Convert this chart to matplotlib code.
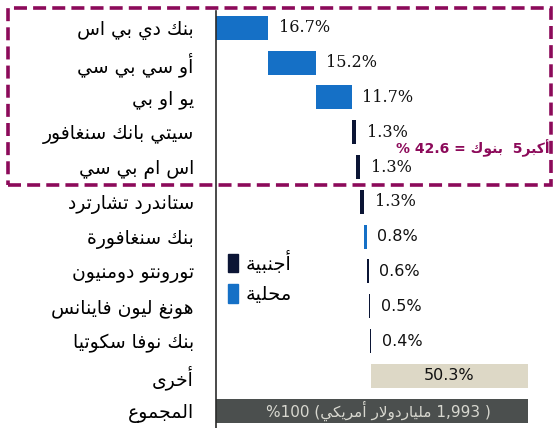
import re
import matplotlib
matplotlib.use('Agg')
import matplotlib.pyplot as plt
from matplotlib.patches import Patch, Rectangle

# data
banks = ['بنك دي بي اس', 'أو سي بي سي', 'يو او بي', 'سيتي بانك سنغافور', 'اس ام بي سي',
         'ستاندرد تشارترد', 'بنك سنغافورة', 'تورونتو دومنيون', 'هونغ ليون فاينانس', 'بنك نوفا سكوتيا']
shares = [16.7, 15.2, 11.7, 1.3, 1.3, 1.3, 0.8, 0.6, 0.5, 0.4]
kinds = ['local', 'local', 'local', 'foreign', 'foreign', 'foreign', 'local', 'foreign', 'foreign', 'foreign']
others_label = 'أخرى'
others_share = 50.3
total_label = 'المجموع'
total_share = 100
total_text = '( 1,993 ملياردولار أمريكي) 100%'
top5_text = 'أكبر5  بنوك = 42.6 %'
legend_labels = ['أجنبية', 'محلية']

BLUE = '#1570c6'
NAVY = '#0b1535'
BEIGE = '#ddd8c6'
GREY = '#4b4f4e'
MAROON = '#8c0a5a'

# --- minimal arabic shaping + rtl ordering (no reshaper available) ---
DUAL = {'ئ': 0xFE89, 'ب': 0xFE8F, 'ت': 0xFE95, 'ث': 0xFE99, 'ج': 0xFE9D, 'ح': 0xFEA1,
        'خ': 0xFEA5, 'س': 0xFEB1, 'ش': 0xFEB5, 'ص': 0xFEB9, 'ض': 0xFEBD, 'ط': 0xFEC1,
        'ظ': 0xFEC5, 'ع': 0xFEC9, 'غ': 0xFECD, 'ف': 0xFED1, 'ق': 0xFED5, 'ك': 0xFED9,
        'ل': 0xFEDD, 'م': 0xFEE1, 'ن': 0xFEE5, 'ه': 0xFEE9, 'ي': 0xFEF1}
RIGHT = {'آ': 0xFE81, 'أ': 0xFE83, 'ؤ': 0xFE85, 'إ': 0xFE87, 'ا': 0xFE8D, 'ة': 0xFE93,
         'د': 0xFEA9, 'ذ': 0xFEAB, 'ر': 0xFEAD, 'ز': 0xFEAF, 'و': 0xFEED, 'ى': 0xFEEF}
LAM_ALEF = {'آ': 0xFEF5, 'أ': 0xFEF7, 'إ': 0xFEF9, 'ا': 0xFEFB}
MIRROR = str.maketrans('()', ')(')


def shape(text):
    seq = []
    i = 0
    while i < len(text):
        c = text[i]
        if c == 'ل' and i + 1 < len(text) and text[i + 1] in LAM_ALEF:
            seq.append(('LA', text[i + 1]))
            i += 2
        else:
            seq.append(('C', c))
            i += 1

    def joins_next(it):
        return it[0] == 'C' and it[1] in DUAL

    def joins_prev(it):
        return it[0] == 'LA' or it[1] in DUAL or it[1] in RIGHT

    out = []
    for j, it in enumerate(seq):
        p = j > 0 and joins_next(seq[j - 1]) and joins_prev(it)
        n = j + 1 < len(seq) and joins_next(it) and joins_prev(seq[j + 1])
        k, c = it
        if k == 'LA':
            out.append(chr(LAM_ALEF[c] + (1 if p else 0)))
        elif c in DUAL:
            out.append(chr(DUAL[c] + (3 if p and n else 2 if n else 1 if p else 0)))
        elif c in RIGHT:
            out.append(chr(RIGHT[c] + (1 if p else 0)))
        else:
            out.append(c)
    return ''.join(out)


def ar(text):
    parts = re.split(r'([0-9][0-9.,]*[0-9]|[0-9])', shape(text))
    vis = [p if k % 2 else p[::-1].translate(MIRROR) for k, p in enumerate(parts)]
    return ''.join(vis[::-1])


fig = plt.figure(figsize=(5.53, 4.28), dpi=100)
ax = fig.add_axes([216 / 553, 0, 1 - 216 / 553, 1 - 10.5 / 428])

n = len(banks)
left = 0
for i in range(n):
    col = BLUE if kinds[i] == 'local' else NAVY
    ax.barh(i, shares[i], left=left, height=0.69, color=col)
    font = 'DejaVu Serif' if i < 6 else 'DejaVu Sans'
    ax.annotate(f'{shares[i]}%', (left + shares[i], i), xytext=(7.5, 0),
                textcoords='offset points', va='center', ha='left',
                fontsize=11.5, family=font, color='#111111')
    left += shares[i]

ax.barh(n, others_share, left=total_share - others_share, height=0.69, color=BEIGE)
ax.text(total_share - others_share / 2, n, f'{others_share}%', ha='center', va='center',
        fontsize=11.5, color='#111111')
ax.barh(n + 1, total_share, height=0.69, color=GREY)
ax.text(52, n + 1, ar(total_text), ha='center', va='center', fontsize=11, color='#d8d8d0')

ax.set_xlim(0, 337 / 3.12)
ax.set_ylim(n + 1.5, -0.5)
ax.set_yticks(range(n + 2))
ax.set_yticklabels([ar(b) for b in banks + [others_label, total_label]], fontsize=13.5)
ax.tick_params(axis='y', length=0, pad=16)
ax.set_xticks([])
for s in ['top', 'right', 'bottom']:
    ax.spines[s].set_visible(False)
ax.spines['left'].set_color('#2b2b2b')
ax.spines['left'].set_linewidth(1.2)

handles = [Patch(color=NAVY, label=ar(legend_labels[0])),
           Patch(color=BLUE, label=ar(legend_labels[1]))]
ax.legend(handles=handles, loc='upper left', bbox_to_anchor=(0.035, 0.425), frameon=False,
          handlelength=0.55, handleheight=1.1, handletextpad=0.35, labelspacing=0.55,
          borderpad=0, borderaxespad=0, fontsize=14)

# dashed box around the top five banks
box = Rectangle((8 / 553, 1 - 185 / 428), 543 / 553, 177 / 428, transform=fig.transFigure,
                fill=False, edgecolor=MAROON, linewidth=2.6, linestyle=(0, (3.6, 1.7)))
fig.patches.append(box)
fig.text(550 / 553, 1 - 148 / 428, ar(top5_text), ha='right', va='center', fontsize=10,
         fontweight='bold', color=MAROON)

fig.savefig('out.png', dpi=100)
